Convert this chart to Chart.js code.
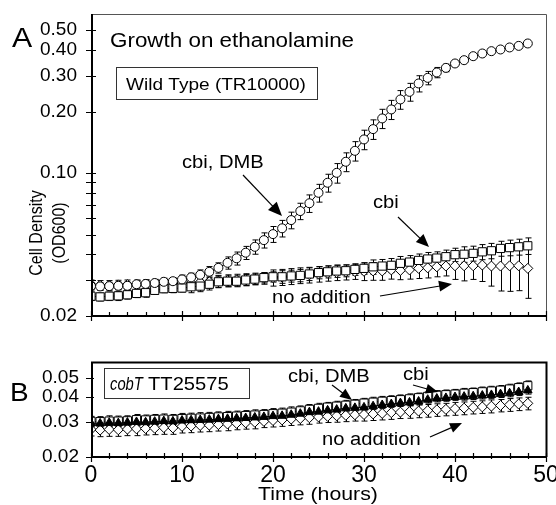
<!DOCTYPE html>
<html><head><meta charset="utf-8">
<script src="https://cdn.jsdelivr.net/npm/chart.js@4.4.1/dist/chart.umd.min.js"></script>
<style>
html,body{margin:0;padding:0;background:#fff;}
body{width:556px;height:505px;overflow:hidden;position:relative;}
canvas{position:absolute;left:0;top:0;}
</style></head>
<body>
<canvas id="cA" width="556" height="505"></canvas>
<canvas id="cB" width="556" height="505"></canvas>
<script>
// ---------------- DATA ----------------
const hours = [0,1,2,3,4,5,6,7,8,9,10,11,12,13,14,15,16,17,18,19,20,21,22,23,24,25,26,27,28,29,30,31,32,33,34,35,36,37,38,39,40,41,42,43,44,45,46,47,48];

// Panel A: wild type (TR10000)
const wtCbiDmb = [0.0280,0.0279,0.0280,0.0281,0.0281,0.0286,0.0287,0.0290,0.0294,0.0296,
  0.0302,0.0309,0.0318,0.0329,0.0344,0.0364,0.0383,0.0408,0.0436,0.0470,
  0.0503,0.0537,0.0589,0.0652,0.0712,0.0801,0.0897,0.1003,0.1136,0.1285,
  0.1461,0.1641,0.1851,0.2048,0.2292,0.2497,0.2744,0.2923,0.3106,0.3271,
  0.3437,0.3567,0.3731,0.3846,0.3948,0.4024,0.4116,0.4190,0.4305];
const wtCbiDmbErr = [0.0012,0.0012,0.0012,0.0012,0.0012,0.0012,0.0012,0.0012,0.0012,0.0012,
  0.0015,0.0015,0.0018,0.0020,0.0020,0.0025,0.0028,0.0030,0.0035,0.0040,
  0.0045,0.0050,0.0055,0.0060,0.0070,0.0080,0.0090,0.0110,0.0120,0.0140,
  0.0160,0.0180,0.0200,0.0220,0.0240,0.0250,0.0250,0.0220,0.0180,0.0140,
  0.0100,0.0080,0.0060,0.0050,0.0040,0.0040,0.0030,0.0030,0.0030];
const wtCbi = [0.0250,0.0248,0.0250,0.0251,0.0254,0.0258,0.0260,0.0267,0.0272,0.0273,
  0.0274,0.0278,0.0280,0.0286,0.0294,0.0296,0.0296,0.0300,0.0303,0.0308,
  0.0311,0.0311,0.0314,0.0316,0.0321,0.0326,0.0329,0.0332,0.0333,0.0338,
  0.0342,0.0348,0.0351,0.0354,0.0362,0.0367,0.0374,0.0380,0.0384,0.0390,
  0.0399,0.0401,0.0405,0.0412,0.0417,0.0428,0.0432,0.0436,0.0441];
const wtCbiErr = [0.0012,0.0011,0.0012,0.0013,0.0012,0.0012,0.0013,0.0012,0.0012,0.0013,
  0.0012,0.0018,0.0017,0.0018,0.0019,0.0018,0.0018,0.0019,0.0018,0.0018,
  0.0018,0.0022,0.0021,0.0022,0.0023,0.0022,0.0022,0.0023,0.0022,0.0022,
  0.0022,0.0028,0.0027,0.0028,0.0029,0.0028,0.0028,0.0029,0.0028,0.0030,
  0.0030,0.0035,0.0034,0.0035,0.0036,0.0036,0.0038,0.0039,0.0041];
const wtNone = [0.0285,0.0283,0.0283,0.0284,0.0285,0.0285,0.0286,0.0287,0.0288,0.0289,
  0.0290,0.0291,0.0293,0.0294,0.0296,0.0298,0.0300,0.0302,0.0304,0.0306,
  0.0308,0.0310,0.0313,0.0316,0.0318,0.0321,0.0324,0.0326,0.0328,0.0330,
  0.0331,0.0332,0.0332,0.0336,0.0334,0.0336,0.0342,0.0344,0.0348,0.0351,
  0.0352,0.0352,0.0352,0.0355,0.0351,0.0351,0.0352,0.0352,0.0342];
const wtNoneErr = [0.0015,0.0015,0.0015,0.0015,0.0015,0.0015,0.0015,0.0015,0.0015,0.0015,
  0.0020,0.0020,0.0020,0.0020,0.0020,0.0020,0.0020,0.0020,0.0020,0.0020,
  0.0028,0.0028,0.0028,0.0028,0.0028,0.0028,0.0028,0.0028,0.0028,0.0028,
  0.0033,0.0033,0.0033,0.0033,0.0033,0.0033,0.0037,0.0037,0.0037,0.0037,
  0.0050,0.0055,0.0050,0.0060,0.0071,0.0086,0.0088,0.0086,0.0098];

// Panel B: cobT (TT25575)
const cobCbiDmb = [0.0296,0.0295,0.0297,0.0296,0.0298,0.0300,0.0299,0.0301,0.0303,0.0302,
  0.0305,0.0306,0.0307,0.0308,0.0310,0.0311,0.0313,0.0314,0.0316,0.0318,
  0.0321,0.0322,0.0326,0.0330,0.0336,0.0338,0.0343,0.0346,0.0351,0.0353,
  0.0355,0.0360,0.0365,0.0369,0.0373,0.0376,0.0380,0.0388,0.0393,0.0396,
  0.0400,0.0402,0.0404,0.0407,0.0410,0.0414,0.0418,0.0424,0.0432];
const cobCbiDmbErr = [0.0012,0.0012,0.0013,0.0012,0.0012,0.0013,0.0012,0.0012,0.0013,0.0012,
  0.0012,0.0013,0.0012,0.0012,0.0013,0.0012,0.0012,0.0013,0.0012,0.0012,
  0.0013,0.0013,0.0014,0.0013,0.0013,0.0014,0.0013,0.0013,0.0014,0.0013,
  0.0014,0.0014,0.0015,0.0014,0.0014,0.0015,0.0014,0.0015,0.0015,0.0015,
  0.0015,0.0016,0.0015,0.0016,0.0016,0.0016,0.0017,0.0017,0.0018];
const cobCbi = [0.0302,0.0301,0.0303,0.0303,0.0304,0.0308,0.0307,0.0309,0.0310,0.0309,
  0.0312,0.0313,0.0314,0.0316,0.0318,0.0319,0.0321,0.0323,0.0325,0.0327,
  0.0330,0.0332,0.0336,0.0341,0.0347,0.0351,0.0356,0.0360,0.0364,0.0368,
  0.0373,0.0377,0.0381,0.0384,0.0388,0.0392,0.0397,0.0403,0.0408,0.0411,
  0.0414,0.0418,0.0421,0.0425,0.0429,0.0433,0.0439,0.0446,0.0456];
const cobCbiErr = [0.0018,0.0018,0.0019,0.0018,0.0018,0.0019,0.0018,0.0018,0.0019,0.0018,
  0.0019,0.0019,0.0020,0.0019,0.0019,0.0020,0.0019,0.0019,0.0020,0.0019,
  0.0020,0.0020,0.0021,0.0020,0.0020,0.0021,0.0020,0.0021,0.0021,0.0021,
  0.0021,0.0022,0.0022,0.0022,0.0022,0.0023,0.0022,0.0023,0.0023,0.0023,
  0.0023,0.0024,0.0023,0.0024,0.0024,0.0024,0.0025,0.0025,0.0026];
const cobNone = [0.0275,0.0273,0.0275,0.0274,0.0276,0.0277,0.0278,0.0279,0.0281,0.0280,
  0.0285,0.0286,0.0288,0.0289,0.0291,0.0293,0.0295,0.0297,0.0299,0.0302,
  0.0305,0.0307,0.0310,0.0312,0.0315,0.0318,0.0320,0.0322,0.0324,0.0326,
  0.0327,0.0329,0.0331,0.0334,0.0336,0.0338,0.0340,0.0342,0.0345,0.0347,
  0.0350,0.0352,0.0355,0.0357,0.0360,0.0363,0.0366,0.0369,0.0372];
const cobNoneErr = [0.0020,0.0020,0.0021,0.0020,0.0020,0.0021,0.0020,0.0020,0.0021,0.0020,
  0.0021,0.0021,0.0021,0.0021,0.0021,0.0022,0.0021,0.0021,0.0022,0.0021,
  0.0022,0.0022,0.0022,0.0022,0.0023,0.0022,0.0022,0.0023,0.0023,0.0023,
  0.0024,0.0024,0.0024,0.0025,0.0024,0.0025,0.0025,0.0025,0.0025,0.0025,
  0.0026,0.0026,0.0026,0.0026,0.0027,0.0026,0.0027,0.0027,0.0027];

// Tick labels
const xMajorTicks = [0,10,20,30,40,50];
const xMinorTicks = [2,4,6,8,12,14,16,18,22,24,26,28,32,34,36,38,42,44,46,48];
const yTicksTop = [0.02,0.10,0.20,0.30,0.40,0.50];
const yMinorTop = [0.03,0.04,0.05,0.06,0.07,0.08,0.09];
const yTicksBottom = [0.02,0.03,0.04,0.05];

// ---------------- HELPERS ----------------
const FONT = '"Liberation Sans", Arial, Helvetica, sans-serif';
const SX = 1.12; // horizontal stretch of reference lettering
Chart.defaults.font.family = FONT;
Chart.defaults.color = '#000';

function pts(vals){ return hours.map((h,i)=>({x:h, y:vals[i]})); }

function text(ctx, s, x, y, size, opt){
  opt = opt || {};
  ctx.save();
  ctx.translate(x, y);
  ctx.scale(opt.sx || SX, 1);
  ctx.font = (opt.italic ? 'italic ' : '') + size + 'px ' + FONT;
  ctx.fillStyle = '#000';
  ctx.textBaseline = 'alphabetic';
  ctx.textAlign = opt.align || 'left';
  ctx.fillText(s, 0, 0);
  ctx.restore();
}
function vtext(ctx, s, x, y, size){
  ctx.save();
  ctx.translate(x, y); ctx.rotate(-Math.PI/2); ctx.scale(1, SX);
  ctx.fillStyle = '#000'; ctx.font = size + 'px ' + FONT;
  ctx.textAlign = 'center'; ctx.textBaseline = 'middle';
  ctx.fillText(s, 0, 0);
  ctx.restore();
}
function arrow(ctx, x1, y1, x2, y2, head, half){
  const a = Math.atan2(y2-y1, x2-x1), c = Math.cos(a), s = Math.sin(a);
  ctx.save();
  ctx.strokeStyle = '#000'; ctx.fillStyle = '#000'; ctx.lineWidth = 1.2;
  ctx.beginPath(); ctx.moveTo(x1, y1); ctx.lineTo(x2 - head*0.7*c, y2 - head*0.7*s); ctx.stroke();
  ctx.beginPath();
  ctx.moveTo(x2, y2);
  ctx.lineTo(x2 - head*c + half*s, y2 - head*s - half*c);
  ctx.lineTo(x2 - head*c - half*s, y2 - head*s + half*c);
  ctx.closePath(); ctx.fill();
  ctx.restore();
}

const errorBars = {
  id: 'errorBars',
  beforeDatasetsDraw(chart){
    const {ctx, chartArea:a, scales:{x, y}} = chart;
    ctx.save();
    ctx.beginPath(); ctx.rect(a.left, a.top - 2, a.right - a.left, a.bottom - a.top + 2); ctx.clip();
    ctx.strokeStyle = '#000'; ctx.lineWidth = 1;
    chart.data.datasets.forEach(ds => {
      if (!ds.errors) return;
      ds.data.forEach((p, j) => {
        const e = ds.errors[j];
        const px = Math.round(x.getPixelForValue(p.x)) + 0.5;
        const yh = y.getPixelForValue(p.y + e);
        const yl = y.getPixelForValue(Math.max(p.y - e, 0.0005));
        ctx.beginPath();
        ctx.moveTo(px, yh); ctx.lineTo(px, yl);
        ctx.moveTo(px - 3, yh); ctx.lineTo(px + 3, yh);
        ctx.moveTo(px - 3, yl); ctx.lineTo(px + 3, yl);
        ctx.stroke();
      });
    });
    ctx.restore();
  }
};

function frame(chart, o){
  const {ctx, chartArea:a, scales:{x, y}} = chart;
  ctx.save();
  ctx.lineWidth = o.thin; ctx.strokeStyle = o.thinColor;
  ctx.beginPath(); ctx.moveTo(a.left, a.top + 0.5); ctx.lineTo(a.right + 0.5, a.top + 0.5); ctx.lineTo(a.right + 0.5, a.bottom); ctx.stroke();
  ctx.strokeStyle = '#000'; ctx.lineWidth = 2;
  ctx.beginPath(); ctx.moveTo(a.left + 1, a.top); ctx.lineTo(a.left + 1, a.bottom); ctx.lineTo(a.right + 1, a.bottom); ctx.stroke();
  ctx.lineWidth = 1.2;
  ctx.beginPath();
  xMajorTicks.forEach(v => { const px = Math.round(x.getPixelForValue(v)) + 0.5; ctx.moveTo(px, a.bottom - o.xMajUp); ctx.lineTo(px, a.bottom + o.xMajDown); });
  xMinorTicks.forEach(v => { const px = Math.round(x.getPixelForValue(v)) + 0.5; ctx.moveTo(px, a.bottom - o.xMinUp); ctx.lineTo(px, a.bottom + o.xMinDown); });
  o.yMajor.forEach(v => { const py = Math.round(y.getPixelForValue(v)) + 0.5; ctx.moveTo(a.left - o.yOut, py); ctx.lineTo(a.left + o.yIn, py); });
  (o.yMinor || []).forEach(v => { const py = Math.round(y.getPixelForValue(v)) + 0.5; ctx.moveTo(a.left - o.yOut, py); ctx.lineTo(a.left + o.yIn, py); });
  ctx.stroke();
  ctx.restore();
}

function lineDs(label, vals, errs, style, radius, fill, order){
  return {
    label, data: pts(vals), errors: errs,
    borderColor: '#000', borderWidth: 1,
    pointStyle: style, pointRadius: radius, pointBorderWidth: 1,
    pointBorderColor: '#000', pointBackgroundColor: fill,
    showLine: true, fill: false, tension: 0, order
  };
}

// ---------------- CHART A ----------------
new Chart(document.getElementById('cA'), {
  type: 'line',
  data: { datasets: [
    lineDs('cbi, DMB', wtCbiDmb, wtCbiDmbErr, 'circle', 4.5, '#fff', 0),
    lineDs('cbi', wtCbi, wtCbiErr, 'rect', 5.8, '#fff', 1),
    lineDs('no addition', wtNone, wtNoneErr, 'rectRot', 5, '#fff', 2)
  ]},
  options: {
    responsive: false, animation: false, events: [],
    layout: { padding: { left: 0, top: 14, right: 10, bottom: 189 } },
    plugins: { legend: { display: false }, tooltip: { enabled: false } },
    scales: {
      x: { type: 'linear', min: 0, max: 50, display: false },
      y: {
        type: 'logarithmic', min: 0.02, max: 0.6,
        grid: { display: false, drawTicks: false }, border: { display: false },
        afterBuildTicks: s => { s.ticks = yTicksTop.map(v => ({ value: v })); },
        afterFit: s => { s.width = 91; s.paddingTop = 0; s.paddingBottom = 0; },
        ticks: { autoSkip: false, padding: 14, font: { size: 19 }, color: '#000',
          callback: v => Number(v).toFixed(2) }
      }
    }
  },
  plugins: [errorBars, {
    id: 'decorA',
    afterDraw(chart){
      const ctx = chart.ctx;
      frame(chart, { thin: 1, thinColor: '#555', xMajUp: 5, xMajDown: 5, xMinUp: 4, xMinDown: 0,
        yMajor: yTicksTop, yMinor: yMinorTop, yOut: 5, yIn: 5 });
      text(ctx, 'A', 12, 47, 27);
      text(ctx, 'Growth on ethanolamine', 110, 47, 20);
      ctx.save(); ctx.strokeStyle = '#333'; ctx.lineWidth = 1; ctx.strokeRect(116.5, 67.5, 201, 32); ctx.restore();
      text(ctx, 'Wild Type (TR10000)', 126, 90, 17);
      text(ctx, 'cbi, DMB', 182, 168, 18);
      arrow(ctx, 243, 175, 282, 216, 14, 6);
      text(ctx, 'cbi', 373, 208, 18);
      arrow(ctx, 398, 217, 429, 247, 13, 5.5);
      text(ctx, 'no addition', 272, 303, 18);
      arrow(ctx, 380, 296, 452, 284, 13, 5.5);
      vtext(ctx, 'Cell Density', 37, 233, 16);
      vtext(ctx, '(OD600)', 60, 233, 16);
    }
  }]
});

// ---------------- CHART B ----------------
new Chart(document.getElementById('cB'), {
  type: 'line',
  data: { datasets: [
    lineDs('cbi, DMB', cobCbiDmb, cobCbiDmbErr, 'triangle', 5, '#000', 0),
    lineDs('cbi', cobCbi, cobCbiErr, 'rect', 5.8, '#fff', 1),
    lineDs('no addition', cobNone, cobNoneErr, 'rectRot', 5, '#fff', 2)
  ]},
  options: {
    responsive: false, animation: false, events: [],
    layout: { padding: { left: 0, top: 362, right: 10, bottom: 0 } },
    plugins: { legend: { display: false }, tooltip: { enabled: false } },
    scales: {
      x: {
        type: 'linear', min: 0, max: 50,
        grid: { display: false, drawTicks: false }, border: { display: false },
        afterBuildTicks: s => { s.ticks = xMajorTicks.map(v => ({ value: v })); },
        afterFit: s => { s.height = 48; s.paddingLeft = 0; s.paddingRight = 0; },
        ticks: { autoSkip: false, maxRotation: 0, padding: 5, font: { size: 23 }, color: '#000' }
      },
      y: {
        type: 'logarithmic', min: 0.02, max: 0.06,
        grid: { display: false, drawTicks: false }, border: { display: false },
        afterBuildTicks: s => { s.ticks = yTicksBottom.map(v => ({ value: v })); },
        afterFit: s => { s.width = 91; s.paddingTop = 0; s.paddingBottom = 0; },
        ticks: { autoSkip: false, padding: 12, font: { size: 19 }, color: '#000',
          callback: v => Number(v).toFixed(2) }
      }
    }
  },
  plugins: [errorBars, {
    id: 'decorB',
    afterDraw(chart){
      const ctx = chart.ctx;
      frame(chart, { thin: 2, thinColor: '#000', xMajUp: 4, xMajDown: 5, xMinUp: 4, xMinDown: 2,
        yMajor: yTicksBottom, yMinor: [], yOut: 5, yIn: 3 });
      text(ctx, 'B', 10, 401, 25);
      ctx.save(); ctx.strokeStyle = '#333'; ctx.lineWidth = 1; ctx.strokeRect(104.5, 368.5, 145, 30); ctx.restore();
      text(ctx, 'cobT', 110, 390, 18, { italic: true, sx: 0.82 });
      text(ctx, 'TT25575', 148, 390, 18);
      text(ctx, 'cbi, DMB', 288, 382, 18);
      arrow(ctx, 332, 385, 352, 400, 12, 5);
      text(ctx, 'cbi', 403, 380, 18);
      arrow(ctx, 413, 385, 438, 392, 12, 5);
      text(ctx, 'no addition', 322, 445, 18);
      arrow(ctx, 430, 437, 462, 423, 12, 5);
      text(ctx, 'Time (hours)', 318, 500, 19, { align: 'center' });
    }
  }]
});
</script>
</body></html>
